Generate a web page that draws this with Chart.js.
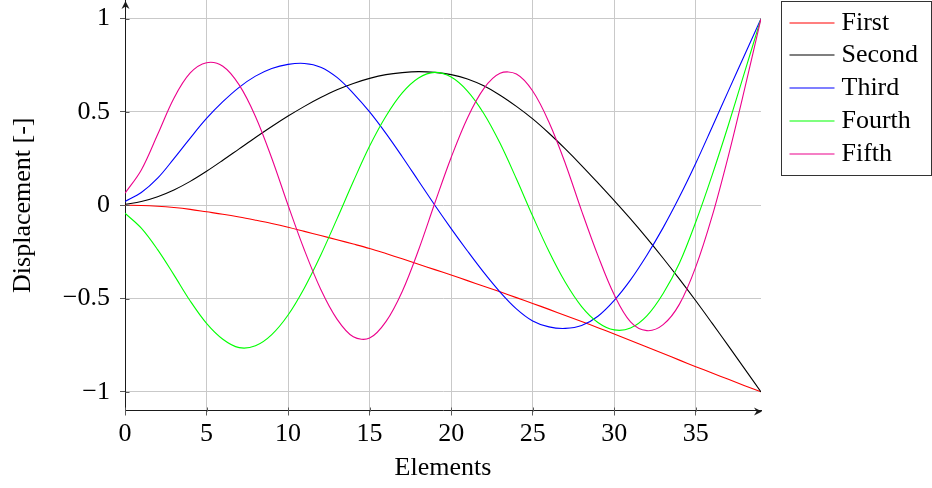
<!DOCTYPE html>
<html lang="en">
<head>
<meta charset="utf-8">
<title>Mode shapes</title>
<script src="https://cdn.jsdelivr.net/npm/chart.js@4.4.1/dist/chart.umd.min.js"></script>
<style>
  html, body { margin: 0; padding: 0; background: #fff; }
  canvas { display: block; }
</style>
</head>
<body>
<canvas id="graficoModos" width="932" height="488"></canvas>
<script>
/* ===============================
   DATA
================================ */

const elements = [0, 1, 2, 3, 4, 5, 6, 7, 8, 9, 10, 11, 12, 13, 14, 15, 16, 17, 18, 19,
  20, 21, 22, 23, 24, 25, 26, 27, 28, 29, 30, 31, 32, 33, 34, 35, 36, 37, 38, 39];

const first = [0, -0.001, -0.005, -0.012, -0.022, -0.035, -0.048, -0.063, -0.08, -0.098,
  -0.118, -0.14, -0.162, -0.185, -0.208, -0.232, -0.259, -0.287, -0.316, -0.345,
  -0.374, -0.404, -0.434, -0.464, -0.495, -0.526, -0.558, -0.591, -0.623, -0.656,
  -0.69, -0.725, -0.76, -0.795, -0.83, -0.865, -0.899, -0.933, -0.967, -1];

const second = [0.005, 0.02, 0.046, 0.082, 0.128, 0.182, 0.241, 0.302, 0.363, 0.422,
  0.478, 0.53, 0.577, 0.619, 0.653, 0.68, 0.7, 0.711, 0.716, 0.712,
  0.7, 0.677, 0.64, 0.59, 0.53, 0.463, 0.386, 0.302, 0.213, 0.12,
  0.025, -0.073, -0.176, -0.284, -0.396, -0.512, -0.632, -0.754, -0.877, -1];

const third = [0.02, 0.068, 0.145, 0.25, 0.36, 0.465, 0.555, 0.632, 0.692, 0.733,
  0.755, 0.76, 0.74, 0.685, 0.6, 0.5, 0.385, 0.26, 0.13, 0,
  -0.125, -0.245, -0.36, -0.465, -0.555, -0.62, -0.652, -0.66, -0.645, -0.595,
  -0.51, -0.4, -0.268, -0.12, 0.045, 0.225, 0.418, 0.613, 0.807, 1];

const fourth = [-0.043, -0.123, -0.238, -0.373, -0.513, -0.633, -0.718, -0.763, -0.753, -0.693,
  -0.588, -0.443, -0.268, -0.073, 0.127, 0.317, 0.477, 0.602, 0.682, 0.712,
  0.687, 0.612, 0.492, 0.332, 0.142, -0.058, -0.248, -0.413, -0.543, -0.628,
  -0.668, -0.658, -0.593, -0.473, -0.31, -0.09, 0.16, 0.43, 0.715, 1];

const fifth = [0.064, 0.189, 0.379, 0.574, 0.709, 0.764, 0.745, 0.645, 0.476, 0.252,
  0, -0.24, -0.45, -0.61, -0.705, -0.712, -0.624, -0.462, -0.24, 0.012,
  0.256, 0.468, 0.625, 0.707, 0.703, 0.612, 0.445, 0.224, -0.03, -0.27,
  -0.48, -0.625, -0.672, -0.64, -0.53, -0.33, -0.06, 0.265, 0.625, 1];

const xTicks = [0, 5, 10, 15, 20, 25, 30, 35];
const yTicks = [-1, -0.5, 0, 0.5, 1];

/* ===============================
   STYLE
================================ */

const FONT = { family: "'Liberation Serif', 'Times New Roman', serif", size: 26 };
const GRID = '#c9c9c9';
const AXIS = '#1a1a1a';
const TICK = '#5a5a5a';

const series = [
  { label: 'First',  data: first,  color: '#ff0000' },
  { label: 'Second', data: second, color: '#000000' },
  { label: 'Third',  data: third,  color: '#0000ff' },
  { label: 'Fourth', data: fourth, color: '#00ff00' },
  { label: 'Fifth',  data: fifth,  color: '#ec008c' }
];

const minus = v => (v < 0 ? '\u2212' + Math.abs(v) : String(v));

/* ===============================
   PLUGINS: arrows, inner ticks, legend
================================ */

function arrowHead(ctx, x, y, angle) {
  ctx.save();
  ctx.translate(x, y);
  ctx.rotate(angle);
  ctx.beginPath();
  ctx.moveTo(0, 0);
  ctx.lineTo(-8, -4);
  ctx.lineTo(-5.5, 0);
  ctx.lineTo(-8, 4);
  ctx.closePath();
  ctx.fill();
  ctx.restore();
}

const axisDecor = {
  id: 'axisDecor',
  afterDraw(chart) {
    const { ctx, chartArea: a, scales } = chart;
    const left = Math.round(a.left) + 0.5;
    const bottom = Math.round(a.bottom) + 0.5;

    ctx.save();
    ctx.strokeStyle = TICK;
    ctx.lineWidth = 1;
    ctx.beginPath();
    xTicks.forEach(v => {
      const px = Math.round(scales.x.getPixelForValue(v)) + 0.5;
      ctx.moveTo(px, bottom - 4);
      ctx.lineTo(px, bottom);
    });
    yTicks.forEach(v => {
      const py = Math.round(scales.y.getPixelForValue(v)) + 0.5;
      ctx.moveTo(left, py);
      ctx.lineTo(left + 4, py);
    });
    ctx.stroke();

    ctx.fillStyle = AXIS;
    arrowHead(ctx, left, a.top + 1, -Math.PI / 2);
    arrowHead(ctx, a.right + 1, bottom, 0);
    ctx.restore();
  }
};

const legendBox = {
  id: 'legendBox',
  afterDraw(chart) {
    const { ctx, chartArea: a } = chart;
    const x0 = Math.round(a.right) + 20.5;
    const y0 = 1.5;
    const w = 150;
    const h = 174;
    const rowH = 32.8;

    ctx.save();
    ctx.fillStyle = '#fff';
    ctx.fillRect(x0, y0, w, h);
    ctx.strokeStyle = '#333';
    ctx.lineWidth = 1;
    ctx.strokeRect(x0, y0, w, h);

    ctx.font = `${FONT.size}px ${FONT.family}`;
    ctx.textBaseline = 'middle';
    ctx.fillStyle = '#000';
    chart.data.datasets.forEach((ds, i) => {
      // sample line straddles two pixel rows so its colour stays visible
      const y = Math.round(y0 + 21 + i * rowH);
      ctx.strokeStyle = ds.borderColor;
      ctx.lineWidth = 1.2;
      ctx.beginPath();
      ctx.moveTo(x0 + 8, y);
      ctx.lineTo(x0 + 53, y);
      ctx.stroke();
      ctx.fillText(ds.label, x0 + 60, y + 0.5);
    });
    ctx.restore();
  }
};

/* ===============================
   CHART
================================ */

const ctx = document.getElementById('graficoModos');

new Chart(ctx, {
  type: 'line',
  data: {
    datasets: series.map((s, i) => ({
      label: s.label,
      data: elements.map((x, j) => ({ x, y: s.data[j] })),
      borderColor: s.color,
      backgroundColor: s.color,
      borderWidth: 1.1,
      pointRadius: 0,
      tension: 0.35,
      fill: false,
      order: series.length - i
    }))
  },
  options: {
    responsive: false,
    devicePixelRatio: 1,
    animation: false,
    events: [],
    layout: { padding: { top: 0, left: 0, bottom: 0, right: 171 } },
    plugins: {
      legend: { display: false },
      tooltip: { enabled: false }
    },
    scales: {
      x: {
        type: 'linear',
        min: 0,
        max: 39,
        afterBuildTicks: scale => { scale.ticks = xTicks.map(v => ({ value: v })); },
        afterFit: scale => {
          scale.height = 77.5;
          scale.paddingLeft = 0;
          scale.paddingRight = 0;
        },
        grid: { color: GRID, tickColor: TICK, tickLength: 5, lineWidth: 1 },
        border: { color: AXIS, width: 1 },
        ticks: { color: '#000', font: FONT, padding: 3.5, maxRotation: 0, autoSkip: false },
        title: {
          display: true,
          text: 'Elements',
          color: '#000',
          font: FONT,
          padding: { top: 0, bottom: 4.5 }
        }
      },
      y: {
        type: 'linear',
        min: -1.1,
        max: 1.1,
        afterBuildTicks: scale => { scale.ticks = yTicks.map(v => ({ value: v })); },
        afterFit: scale => {
          scale.width = 125;
          scale.paddingTop = 0;
          scale.paddingBottom = 0;
        },
        grid: { color: GRID, tickColor: TICK, tickLength: 5, lineWidth: 1 },
        border: { color: AXIS, width: 1 },
        ticks: { color: '#000', font: FONT, padding: 10, callback: minus },
        title: {
          display: true,
          text: 'Displacement [-]',
          color: '#000',
          font: FONT,
          padding: { top: 8, bottom: 0 }
        }
      }
    }
  },
  plugins: [axisDecor, legendBox]
});
</script>
</body>
</html>
